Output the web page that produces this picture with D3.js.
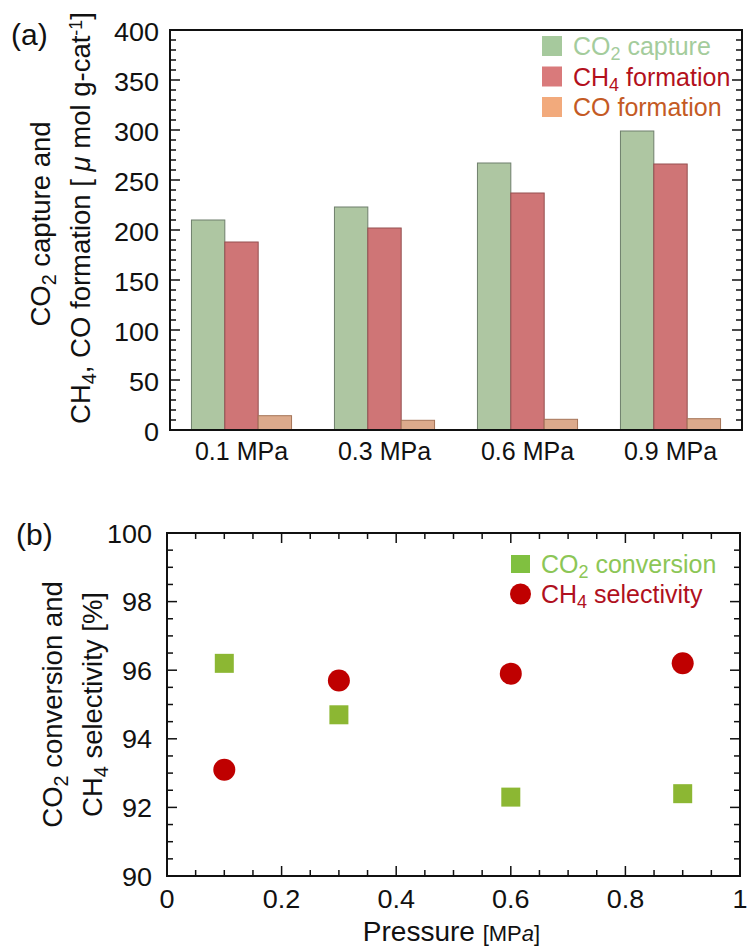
<!DOCTYPE html>
<html>
<head>
<meta charset="utf-8">
<script src="https://cdn.jsdelivr.net/npm/d3@7"></script>
<style>
  body { margin: 0; background: #fff; }
  text { font-family: "Liberation Sans", Arial, Helvetica, sans-serif; fill: #111; }
</style>
</head>
<body>
<div id="chart"></div>
<script>
// ---- data ----
var pressures = ["0.1 MPa", "0.3 MPa", "0.6 MPa", "0.9 MPa"];
var co2Capture = [210, 223, 267, 299];
var ch4Formation = [188, 202, 237, 266];
var coFormation = [14.3, 9.7, 10.7, 11.3];

var pressureVals = [0.1, 0.3, 0.6, 0.9];
var co2Conversion = [96.2, 94.7, 92.3, 92.4];
var ch4Selectivity = [93.1, 95.7, 95.9, 96.2];

var yTicksA = [0, 50, 100, 150, 200, 250, 300, 350, 400];
var xTicksB = [0, 0.2, 0.4, 0.6, 0.8, 1];
var yTicksB = [90, 92, 94, 96, 98, 100];

var W = 748, H = 947;
var svg = d3.select("#chart").append("svg")
    .attr("width", W)
    .attr("height", H);

// helper: text with sub/superscript pieces
function richText(sel, parts) {
    parts.forEach(function (p) {
        var t = sel.append("tspan").text(p.t);
        if (p.sub) t.attr("baseline-shift", "-30%").attr("font-size", "0.72em");
        if (p.sup) t.attr("baseline-shift", "45%").attr("font-size", "0.65em");
        if (p.it) t.attr("font-style", "italic");
        if (p.fs) t.attr("font-size", p.fs);
    });
    return sel;
}

// wide-ish numeric tick labels (digits in the figure are a bit stretched)
function tickText(sel, x, y, anchor) {
    sel.attr("transform", function (d) { return "translate(" + x(d) + "," + y(d) + ") scale(1.08,1)"; })
        .attr("text-anchor", anchor)
        .attr("font-size", 25);
}

// ================= panel (a) =================
var a = { left: 170, right: 742, top: 30, bottom: 430 };

var series = [
    { name: "co2", vals: co2Capture, fill: "#aec6a2", stroke: "#6f7f6c" },
    { name: "ch4", vals: ch4Formation, fill: "#cf7576", stroke: "#955050" },
    { name: "co", vals: coFormation, fill: "#dcaa8c", stroke: "#a57458" }
];

var x0 = d3.scaleBand().domain(pressures)
    .range([a.left, a.right])
    .paddingInner(0.3)
    .paddingOuter(0.15);
var x1 = d3.scaleBand().domain(series.map(function (s) { return s.name; }))
    .range([0, x0.bandwidth()]);
var yA = d3.scaleLinear().domain([0, 400]).range([a.bottom, a.top]);

var gA = svg.append("g");

series.forEach(function (s) {
    gA.selectAll(".bar-" + s.name)
        .data(s.vals)
        .enter().append("rect")
        .attr("class", "bar-" + s.name)
        .attr("x", function (d, i) { return x0(pressures[i]) + x1(s.name); })
        .attr("y", function (d) { return yA(d); })
        .attr("width", x1.bandwidth())
        .attr("height", function (d) { return yA(0) - yA(d); })
        .attr("fill", s.fill)
        .attr("stroke", s.stroke)
        .attr("stroke-width", 1);
});

// frame
gA.append("rect")
    .attr("x", a.left).attr("y", a.top)
    .attr("width", a.right - a.left).attr("height", a.bottom - a.top)
    .attr("fill", "none").attr("stroke", "#111").attr("stroke-width", 2);

// y ticks left/right (inward)
d3.range(0, 401, 10).forEach(function (v) {
    var len = v % 50 === 0 ? 10 : 6;
    gA.append("line").attr("x1", a.left).attr("x2", a.left + len)
        .attr("y1", yA(v)).attr("y2", yA(v)).attr("stroke", "#111").attr("stroke-width", 1.5);
    gA.append("line").attr("x1", a.right).attr("x2", a.right - len)
        .attr("y1", yA(v)).attr("y2", yA(v)).attr("stroke", "#111").attr("stroke-width", 1.5);
});

gA.selectAll(".ylabA")
    .data(yTicksA)
    .enter().append("text")
    .call(tickText, function () { return a.left - 11; }, function (d) { return yA(d) + 10.5; }, "end")
    .text(function (d) { return d; });

gA.selectAll(".xlabA")
    .data(pressures)
    .enter().append("text")
    .attr("x", function (d) { return x0(d) + x0.bandwidth() / 2; })
    .attr("y", a.bottom + 30)
    .attr("text-anchor", "middle")
    .attr("font-size", 25)
    .text(function (d) { return d; });

// y title
richText(gA.append("text")
    .attr("transform", "translate(50,224) rotate(-90)")
    .attr("text-anchor", "middle")
    .attr("font-size", 27.5),
    [{ t: "CO" }, { t: "2", sub: true }, { t: " capture and" }]);
richText(gA.append("text")
    .attr("transform", "translate(90,218) rotate(-90)")
    .attr("text-anchor", "middle")
    .attr("font-size", 27.5),
    [{ t: "CH" }, { t: "4", sub: true }, { t: ", CO formation [ " }, { t: "\u03bc", it: true },
     { t: " mol g-cat" }, { t: "-1", sup: true }, { t: "]" }]);

gA.append("text").attr("x", 11).attr("y", 45).attr("font-size", 30).text("(a)");

// legend (a)
var legA = [
    { parts: [{ t: "CO" }, { t: "2", sub: true }, { t: " capture" }], box: "#a6c99d", col: "#a4cc9c" },
    { parts: [{ t: "CH" }, { t: "4", sub: true }, { t: " formation" }], box: "#d97a7b", col: "#b3101c" },
    { parts: [{ t: "CO formation" }], box: "#f2aa7c", col: "#c45a24" }
];
legA.forEach(function (d, i) {
    var cy = 46 + i * 30.5;
    gA.append("rect").attr("x", 542).attr("y", cy - 10).attr("width", 20).attr("height", 20)
        .attr("fill", d.box);
    richText(gA.append("text").attr("x", 573).attr("y", cy + 9)
        .attr("font-size", 25).style("fill", d.col), d.parts)
        .selectAll("tspan").style("fill", d.col);
});

// ================= panel (b) =================
var b = { left: 167, right: 740, top: 533, bottom: 876 };
var xB = d3.scaleLinear().domain([0, 1]).range([b.left, b.right]);
var yB = d3.scaleLinear().domain([90, 100]).range([b.bottom, b.top]);
var gB = svg.append("g");

gB.append("rect")
    .attr("x", b.left).attr("y", b.top)
    .attr("width", b.right - b.left).attr("height", b.bottom - b.top)
    .attr("fill", "none").attr("stroke", "#111").attr("stroke-width", 2);

d3.range(0, 21).forEach(function (k) {
    var v = k * 0.05;
    var len = k % 4 === 0 ? 10 : 6;
    gB.append("line").attr("x1", xB(v)).attr("x2", xB(v))
        .attr("y1", b.bottom).attr("y2", b.bottom - len).attr("stroke", "#111").attr("stroke-width", 1.5);
    gB.append("line").attr("x1", xB(v)).attr("x2", xB(v))
        .attr("y1", b.top).attr("y2", b.top + len).attr("stroke", "#111").attr("stroke-width", 1.5);
});
d3.range(0, 21).forEach(function (k) {
    var v = 90 + k * 0.5;
    var len = k % 4 === 0 ? 10 : 6;
    gB.append("line").attr("x1", b.left).attr("x2", b.left + len)
        .attr("y1", yB(v)).attr("y2", yB(v)).attr("stroke", "#111").attr("stroke-width", 1.5);
    gB.append("line").attr("x1", b.right).attr("x2", b.right - len)
        .attr("y1", yB(v)).attr("y2", yB(v)).attr("stroke", "#111").attr("stroke-width", 1.5);
});

gB.selectAll(".ylabB")
    .data(yTicksB)
    .enter().append("text")
    .call(tickText, function () { return b.left - 15; }, function (d) { return yB(d) + 9.5; }, "end")
    .text(function (d) { return d; });

gB.selectAll(".xlabB")
    .data(xTicksB)
    .enter().append("text")
    .call(tickText, function (d) { return xB(d); }, function () { return b.bottom + 32; }, "middle")
    .text(function (d) { return d; });

richText(gB.append("text")
    .attr("x", (b.left + b.right) / 2 - 2)
    .attr("y", 941)
    .attr("text-anchor", "middle")
    .attr("font-size", 28),
    [{ t: "Pressure " }, { t: "[MP", fs: 22 }, { t: "a", fs: 22, it: true }, { t: "]", fs: 22 }]);

var cyB = (b.top + b.bottom) / 2;
richText(gB.append("text")
    .attr("transform", "translate(62," + cyB + ") rotate(-90)")
    .attr("text-anchor", "middle")
    .attr("font-size", 27.5),
    [{ t: "CO" }, { t: "2", sub: true }, { t: " conversion and" }]);
richText(gB.append("text")
    .attr("transform", "translate(102," + cyB + ") rotate(-90)")
    .attr("text-anchor", "middle")
    .attr("font-size", 27.5),
    [{ t: "CH" }, { t: "4", sub: true }, { t: " selectivity [%]" }]);

gB.append("text").attr("x", 16).attr("y", 545).attr("font-size", 30).text("(b)");

// points
var sq = 19;
gB.selectAll(".sq")
    .data(co2Conversion)
    .enter().append("rect")
    .attr("x", function (d, i) { return xB(pressureVals[i]) - sq / 2; })
    .attr("y", function (d) { return yB(d) - sq / 2; })
    .attr("width", sq).attr("height", sq)
    .attr("fill", "#8cb733");

gB.selectAll(".dot")
    .data(ch4Selectivity)
    .enter().append("circle")
    .attr("cx", function (d, i) { return xB(pressureVals[i]); })
    .attr("cy", function (d) { return yB(d); })
    .attr("r", 11)
    .attr("fill", "#bf0000");

// legend (b)
gB.append("rect").attr("x", 511).attr("y", 555).attr("width", 19).attr("height", 18).attr("fill", "#80c040");
richText(gB.append("text").attr("x", 541).attr("y", 573).attr("font-size", 25).style("fill", "#8cc656"),
    [{ t: "CO" }, { t: "2", sub: true }, { t: " conversion" }]).selectAll("tspan").style("fill", "#8cc656");
gB.append("circle").attr("cx", 520.5).attr("cy", 594).attr("r", 10.5).attr("fill", "#bf0000");
richText(gB.append("text").attr("x", 541).attr("y", 603).attr("font-size", 25).style("fill", "#b01020"),
    [{ t: "CH" }, { t: "4", sub: true }, { t: " selectivity" }]).selectAll("tspan").style("fill", "#b01020");
</script>
</body>
</html>
